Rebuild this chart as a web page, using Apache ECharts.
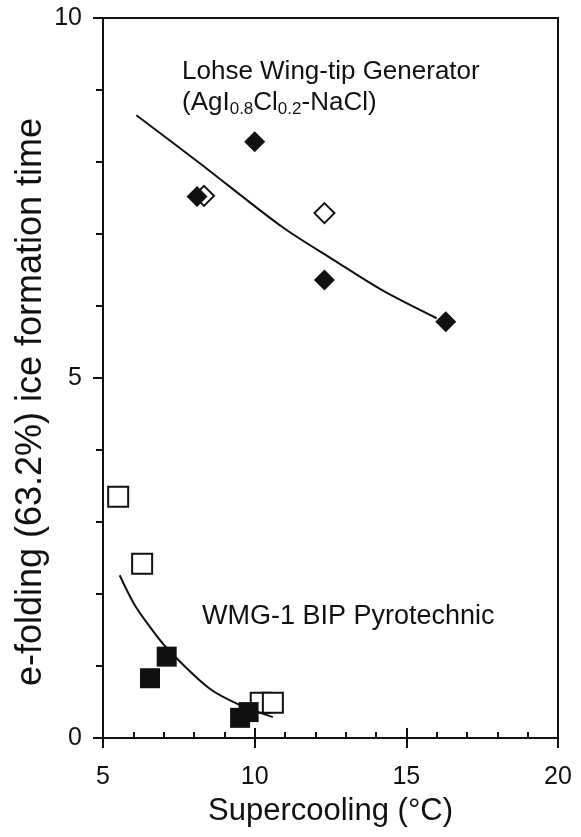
<!DOCTYPE html>
<html>
<head>
<meta charset="utf-8">
<script src="https://cdn.jsdelivr.net/npm/echarts@6/dist/echarts.min.js"></script>
<style>
  html, body { margin: 0; padding: 0; background: #fff; }
  #chart { width: 581px; height: 837px; }
</style>
</head>
<body>
<div id="chart"></div>
<script>
// Lohse wing-tip generator (AgI0.8Cl0.2-NaCl)
const lohseFilled = [[8.1, 7.52], [10.0, 8.28], [12.3, 6.36], [16.3, 5.78]]
const lohseOpen = [[8.33, 7.53], [12.3, 7.29]]
const lohseFit = [[6.1, 8.65], [8.2, 7.98], [10.9, 7.1], [12.6, 6.64], [14.2, 6.22], [16.0, 5.83]]

// WMG-1 BIP pyrotechnic
const wmgFilled = [[7.1, 1.13], [6.55, 0.83], [9.52, 0.28], [9.8, 0.36]]
const wmgOpen = [[5.5, 3.35], [6.29, 2.42], [10.2, 0.49], [10.6, 0.49]]
const wmgFit = [[5.55, 2.26], [6.0, 1.88], [6.5, 1.57], [7.1, 1.25], [8.5, 0.69], [9.5, 0.46], [10.6, 0.29]]

const xTicks = [5, 10, 15, 20]
const yTicks = [0, 5, 10]

const ink = '#111'
const font = 'Liberation Sans, Arial, sans-serif'

const chart = echarts.init(document.getElementById('chart'))

const tickStyle = { color: ink, width: 2 }

chart.setOption({
  backgroundColor: '#fff',
  animation: false,
  grid: {
    left: 103,
    right: 23,
    top: 18,
    bottom: 99,
    show: true,
    borderColor: ink,
    borderWidth: 2
  },
  xAxis: [{
    type: 'value',
    min: xTicks[0],
    max: xTicks[xTicks.length - 1],
    interval: 5,
    name: 'Supercooling (°C)',
    nameLocation: 'middle',
    nameGap: 58,
    nameTextStyle: { color: ink, fontSize: 31, fontFamily: font },
    axisLine: { show: true, lineStyle: { color: ink, width: 2 } },
    axisTick: { show: true, inside: true, length: 10, lineStyle: tickStyle },
    minorTick: { show: true, splitNumber: 5, length: 6, lineStyle: tickStyle },
    axisLabel: { show: true, color: ink, fontSize: 25, fontFamily: font, margin: 27 },
    splitLine: { show: false },
    minorSplitLine: { show: false }
  }, {
    // outward half of the major ticks
    type: 'value',
    position: 'bottom',
    min: xTicks[0],
    max: xTicks[xTicks.length - 1],
    interval: 5,
    axisLine: { show: false },
    axisTick: { show: true, inside: false, length: 10, lineStyle: tickStyle },
    axisLabel: { show: false },
    splitLine: { show: false }
  }],
  yAxis: {
    type: 'value',
    min: yTicks[0],
    max: yTicks[yTicks.length - 1],
    interval: 5,
    axisLine: { show: true, lineStyle: { color: ink, width: 2 } },
    axisTick: { show: true, inside: false, length: 10, lineStyle: tickStyle },
    minorTick: { show: true, splitNumber: 5, length: 7, lineStyle: tickStyle },
    axisLabel: { show: true, color: ink, fontSize: 25, fontFamily: font, margin: 21 },
    splitLine: { show: false },
    minorSplitLine: { show: false }
  },
  graphic: [{
    type: 'text',
    x: 31,
    y: 402,
    rotation: Math.PI / 2,
    style: {
      text: 'e-folding (63.2%) ice formation time',
      font: '36px ' + font,
      fill: ink,
      align: 'center',
      verticalAlign: 'middle'
    }
  }, {
    type: 'text',
    left: 182,
    top: 56,
    style: {
      text: 'Lohse Wing-tip Generator\n(AgI{sub|0.8}Cl{sub|0.2}-NaCl)',
      font: '26px ' + font,
      fill: ink,
      lineHeight: 31,
      rich: {
        sub: { fontSize: 17, fontFamily: font, fill: ink, verticalAlign: 'bottom', padding: [9, 0, 0, 0] }
      }
    }
  }, {
    type: 'text',
    left: 202,
    top: 603,
    style: {
      text: 'WMG-1 BIP Pyrotechnic',
      font: '27px ' + font,
      fill: ink
    }
  }],
  series: [{
    type: 'line',
    data: lohseFit,
    showSymbol: false,
    smooth: 0.3,
    lineStyle: { color: ink, width: 2 }
  }, {
    type: 'line',
    data: wmgFit,
    showSymbol: false,
    smooth: 0.3,
    lineStyle: { color: ink, width: 2 }
  }, {
    type: 'scatter',
    data: lohseOpen,
    symbol: 'diamond',
    symbolSize: 20,
    itemStyle: { color: '#fff', borderColor: ink, borderWidth: 2, opacity: 1 }
  }, {
    type: 'scatter',
    data: wmgOpen,
    symbol: 'rect',
    symbolSize: 20,
    itemStyle: { color: '#fff', borderColor: ink, borderWidth: 2, opacity: 1 }
  }, {
    type: 'scatter',
    data: lohseFilled,
    symbol: 'diamond',
    symbolSize: 21,
    itemStyle: { color: ink, opacity: 1 }
  }, {
    type: 'scatter',
    data: wmgFilled,
    symbol: 'rect',
    symbolSize: 20,
    itemStyle: { color: ink, opacity: 1 }
  }]
})
</script>
</body>
</html>
